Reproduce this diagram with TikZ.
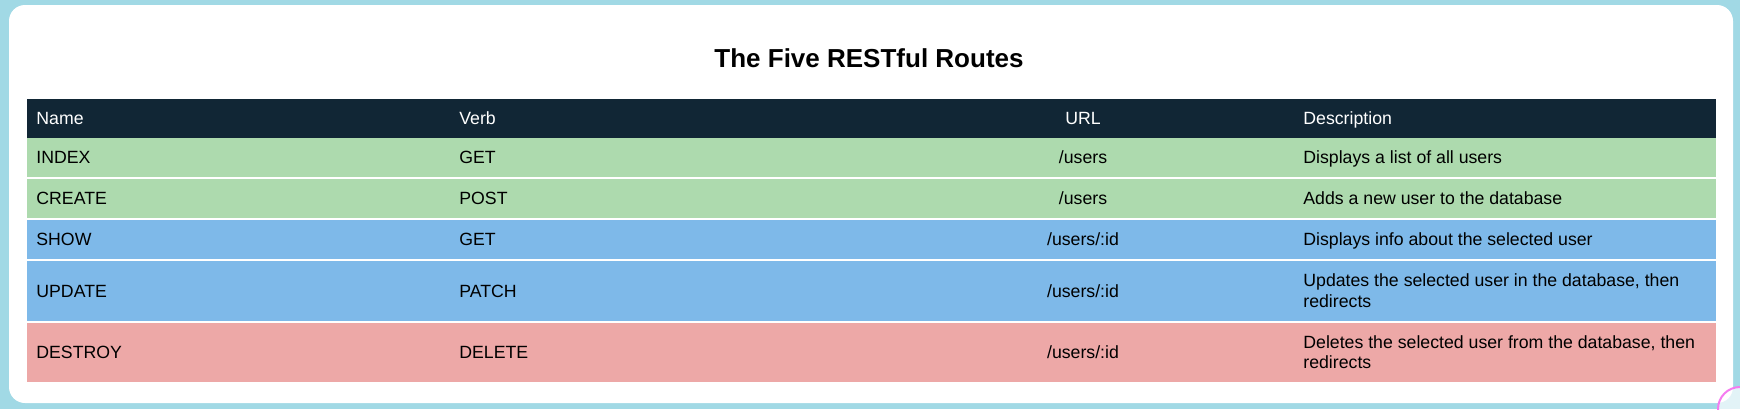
\documentclass[tikz,border=0pt]{standalone}
\usepackage{fontspec}
\setmainfont{Liberation Sans}
\usetikzlibrary{calc}
\definecolor{pagebg}{HTML}{A1D9E5}
\definecolor{headbg}{HTML}{112635}
\definecolor{greenrow}{HTML}{ADDAAE}
\definecolor{bluerow}{HTML}{7EB9E9}
\definecolor{redrow}{HTML}{EDA8A7}
\definecolor{cursorpink}{HTML}{F57BF0}
\tikzset{
  cell/.style={inner sep=0pt, font=\fontsize{8.85}{10.35}\selectfont, text=black},
  headcell/.style={cell, text=white},
}
\newcommand{\cellnode}[5][cell]{\node[#1, anchor=base west, align=left] (#2) at ( #3 , #4 ) {#5};}
\newcommand{\urlnode}[5][cell]{\node[#1, anchor=base] (#2) at ( #3 , #4 ) {#5};}

\begin{document}
\begin{tikzpicture}[x=0.5pt, y=-0.5pt]
        \useasboundingbox (0,0) rectangle (1740,409);
        \fill[pagebg] (0,0) rectangle (1740,409);
        \fill[white, rounded corners=8pt] (9,5) rectangle (1733,403);
        
        \node[inner sep=0pt, anchor=base, font=\fontsize{13}{15}\selectfont\bfseries] (title) at (869,67) {The Five RESTful Routes};
        
        \fill[headbg] (27,99) rectangle (1716,138);
        \fill[greenrow] (27,138) rectangle (1716,177);
        \fill[greenrow] (27,179) rectangle (1716,218);
        \fill[bluerow] (27,220) rectangle (1716,259);
        \fill[bluerow] (27,261) rectangle (1716,321);
        \fill[redrow] (27,323) rectangle (1716,382);
        
        \cellnode[headcell]{hname}{36}{124.9}{Name}
        \cellnode[headcell]{hverb}{459}{124.9}{Verb}
        \urlnode[headcell]{hurl}{1083}{124.9}{URL}
        \cellnode[headcell]{hdesc}{1303}{124.9}{Description}
        
        \cellnode{indexname}{36}{163.9}{INDEX}
        \cellnode{indexverb}{459}{163.9}{GET}
        \urlnode{indexurl}{1083}{163.9}{/users}
        \cellnode{indexdesc}{1303}{163.9}{Displays a list of all users}
        
        \cellnode{createname}{36}{204.9}{CREATE}
        \cellnode{createverb}{459}{204.9}{POST}
        \urlnode{createurl}{1083}{204.9}{/users}
        \cellnode{createdesc}{1303}{204.9}{Adds a new user to the database}
        
        \cellnode{showname}{36}{245.9}{SHOW}
        \cellnode{showverb}{459}{245.9}{GET}
        \urlnode{showurl}{1083}{245.9}{/users/:id}
        \cellnode{showdesc}{1303}{245.9}{Displays info about the selected user}
        
        % two-line cells: base is the last line
        \cellnode{updatename}{36}{297.4}{UPDATE}
        \cellnode{updateverb}{459}{297.4}{PATCH}
        \urlnode{updateurl}{1083}{297.4}{/users/:id}
        \cellnode{updatedesc}{1303}{307.3}{Updates the selected user in the database, then\\redirects}
        
        \cellnode{destroyname}{36}{358.9}{DESTROY}
        \cellnode{destroyverb}{459}{358.9}{DELETE}
        \urlnode{destroyurl}{1083}{358.9}{/users/:id}
        \cellnode{destroydesc}{1303}{368.9}{Deletes the selected user from the database, then\\redirects}
        
        \begin{scope}
        \clip (0,0) rectangle (1740,409);
        \draw[cursorpink, line width=1pt, fill=white, fill opacity=0.7] (1740,409) circle (11pt);
        \end{scope}
    \end{tikzpicture}
\end{document}
